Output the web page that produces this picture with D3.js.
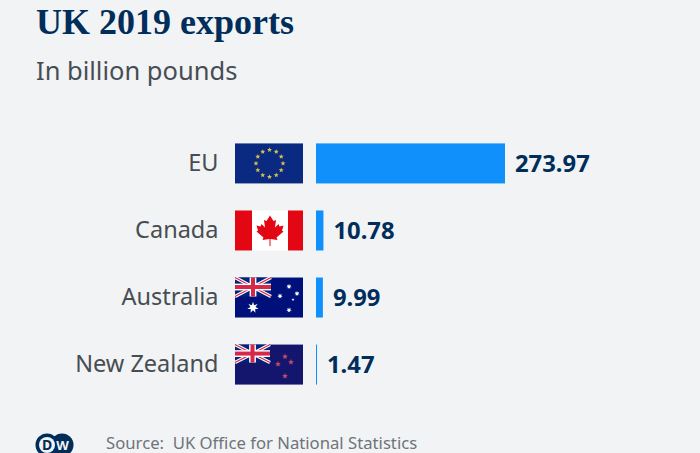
<!DOCTYPE html>
<html>
<head>
<meta charset="utf-8">
<script src="https://cdn.jsdelivr.net/npm/d3@7"></script>
<style>
  html, body { margin: 0; padding: 0; background: #f1f3f5; }
  text { font-family: "Noto Sans", sans-serif; }
</style>
</head>
<body>
<div id="container"></div>
<script>
const countries = ["EU", "Canada", "Australia", "New Zealand"];
const exportsValues = [273.97, 10.78, 9.99, 1.47];
const valueLabels = ["273.97", "10.78", "9.99", "1.47"];

const width = 700;
const height = 453;
const navy = "#002d5a";
const blue = "#0f90fb";

const svg = d3.select("#container")
              .append("svg")
              .attr("width", width)
              .attr("height", height)
              .style("display", "block");

svg.append("text")
   .text("UK 2019 exports")
   .attr("x", 36)
   .attr("y", 34)
   .style("font-family", "'Liberation Serif', serif")
   .style("font-weight", "700")
   .style("font-size", "36px")
   .style("fill", navy);

svg.append("text")
   .text("In billion pounds")
   .attr("x", 36)
   .attr("y", 80)
   .style("font-size", "25.5px")
   .style("fill", "#474d52");

const yScale = d3.scaleBand()
                 .domain(countries)
                 .range([130, 398])
                 .paddingInner(0.403)
                 .paddingOuter(0.2);
const xScale = d3.scaleLinear()
                 .domain([0, 273.97])
                 .range([316, 505]);
const yAxis = d3.axisLeft(yScale).tickSize(0).tickPadding(0);

svg.append("g")
   .attr("transform", "translate(218.5, 0)")
   .call(yAxis)
   .call((g) => g.select(".domain").remove())
   .selectAll("text")
   .style("font-family", "'Noto Sans', sans-serif")
   .style("font-size", "23.5px")
   .style("fill", "#474d52");

svg.append("g")
   .selectAll("rect")
   .data(exportsValues)
   .enter()
   .append("rect")
   .attr("x", xScale(0))
   .attr("y", (d, i) => yScale(countries[i]))
   .attr("width", (d) => xScale(d) - xScale(0))
   .attr("height", yScale.bandwidth())
   .style("fill", blue);

svg.append("g")
   .selectAll("text")
   .data(exportsValues)
   .enter()
   .append("text")
   .text((d, i) => valueLabels[i])
   .attr("x", (d) => xScale(d) + 10)
   .attr("y", (d, i) => yScale(countries[i]) + yScale.bandwidth() / 2)
   .attr("dy", "0.36em")
   .style("font-weight", "700")
   .style("font-size", "23.8px")
   .style("fill", navy);

// flags, drawn in a 68x40 box
const star = (g, cx, cy, r, fill, points = 5) => {
  const pts = [];
  for(let i = 0; i < points * 2; i++) {
    const rad = i % 2 == 0 ? r : r * 0.45;
    const a = -Math.PI / 2 + i * Math.PI / points;
    pts.push([cx + rad * Math.cos(a), cy + rad * Math.sin(a)]);
  }
  g.append("polygon").attr("points", pts.join(" ")).style("fill", fill);
};

const unionJack = (g, w, h) => {
  g.append("rect").attr("width", w).attr("height", h).style("fill", "#00247d");
  [[0, 0, w, h], [0, h, w, 0]].forEach((l) => {
    g.append("line").attr("x1", l[0]).attr("y1", l[1]).attr("x2", l[2]).attr("y2", l[3])
     .style("stroke", "#fff").style("stroke-width", 3.4);
    g.append("line").attr("x1", l[0]).attr("y1", l[1]).attr("x2", l[2]).attr("y2", l[3])
     .style("stroke", "#d5294a").style("stroke-width", 1.2);
  });
  g.append("rect").attr("x", w / 2 - 3.4).attr("width", 6.8).attr("height", h).style("fill", "#fff");
  g.append("rect").attr("y", h / 2 - 3.4).attr("width", w).attr("height", 6.8).style("fill", "#fff");
  g.append("rect").attr("x", w / 2 - 2).attr("width", 4).attr("height", h).style("fill", "#d5294a");
  g.append("rect").attr("y", h / 2 - 2).attr("width", w).attr("height", 4).style("fill", "#d5294a");
};

const flags = {
  "EU": (g) => {
    g.append("rect").attr("width", 68).attr("height", 40).style("fill", "#0a2a82");
    d3.range(12).forEach((i) => {
      const a = i * Math.PI / 6;
      star(g, 34.5 + 13.5 * Math.sin(a), 20 - 13.5 * Math.cos(a), 2.6, "#d9c04a");
    });
  },
  "Canada": (g) => {
    g.append("rect").attr("width", 68).attr("height", 40).style("fill", "#fff");
    g.append("rect").attr("width", 17).attr("height", 40).style("fill", "#e30613");
    g.append("rect").attr("x", 53).attr("width", 15).attr("height", 40).style("fill", "#e30613");
    g.append("path")
     .attr("d", "M35 5 L38.5 10.5 L41 9.5 L40 17 L43.5 13.5 L44.5 16 L48.5 15 L47 20 L48.5 21 L41.5 27 L42.5 29.5 L35.5 28.5 L35.5 35.5 L34.5 35.5 L34.5 28.5 L27.5 29.5 L28.5 27 L21.5 21 L23 20 L21.5 15 L25.5 16 L26.5 13.5 L30 17 L29 9.5 L31.5 10.5 Z")
     .style("fill", "#e30613");
  },
  "Australia": (g) => {
    g.append("rect").attr("width", 68).attr("height", 40).style("fill", "#00107a");
    unionJack(g.append("g"), 36, 19);
    star(g, 18, 30, 5.8, "#fff", 7);
    star(g, 54, 9, 2.8, "#fff", 7);
    star(g, 45, 18.5, 2.8, "#fff", 7);
    star(g, 62, 16, 2.8, "#fff", 7);
    star(g, 58, 22, 1.5, "#fff");
    star(g, 54, 32.5, 2.8, "#fff", 7);
  },
  "New Zealand": (g) => {
    g.append("rect").attr("width", 68).attr("height", 40).style("fill", "#14166e");
    unionJack(g.append("g"), 35, 18);
    star(g, 50, 12, 3, "#c24a66");
    star(g, 43, 19.5, 3, "#c24a66");
    star(g, 56, 17.5, 3, "#c24a66");
    star(g, 50, 31.5, 3, "#c24a66");
  }
};

svg.append("g")
   .selectAll("g")
   .data(countries)
   .enter()
   .append("g")
   .attr("transform", (d) => "translate(235, " + (yScale(d) + yScale.bandwidth() / 2 - 20) + ")")
   .each(function(d) { flags[d](d3.select(this)); });

// DW logo
const logo = svg.append("g").attr("transform", "translate(36, 434)");
logo.append("circle").attr("cx", 26).attr("cy", 11).attr("r", 11.5).style("fill", navy);
logo.append("circle").attr("cx", 11).attr("cy", 11).attr("r", 11.5).style("fill", navy);
logo.append("circle").attr("cx", 11).attr("cy", 11).attr("r", 8).style("fill", "#f1f3f5");
logo.append("text").text("D").attr("x", 11).attr("y", 16)
    .attr("text-anchor", "middle").style("font-weight", "700").style("font-size", "14px").style("fill", navy);
logo.append("text").text("W").attr("x", 26.5).attr("y", 15.5)
    .attr("text-anchor", "middle").style("font-weight", "700").style("font-size", "13px").style("fill", "#f1f3f5");

svg.append("text")
   .text("Source:\u00a0 UK Office for National Statistics")
   .attr("x", 106)
   .attr("y", 449)
   .style("font-size", "16.7px")
   .style("fill", "#6e7479");
</script>
</body>
</html>
